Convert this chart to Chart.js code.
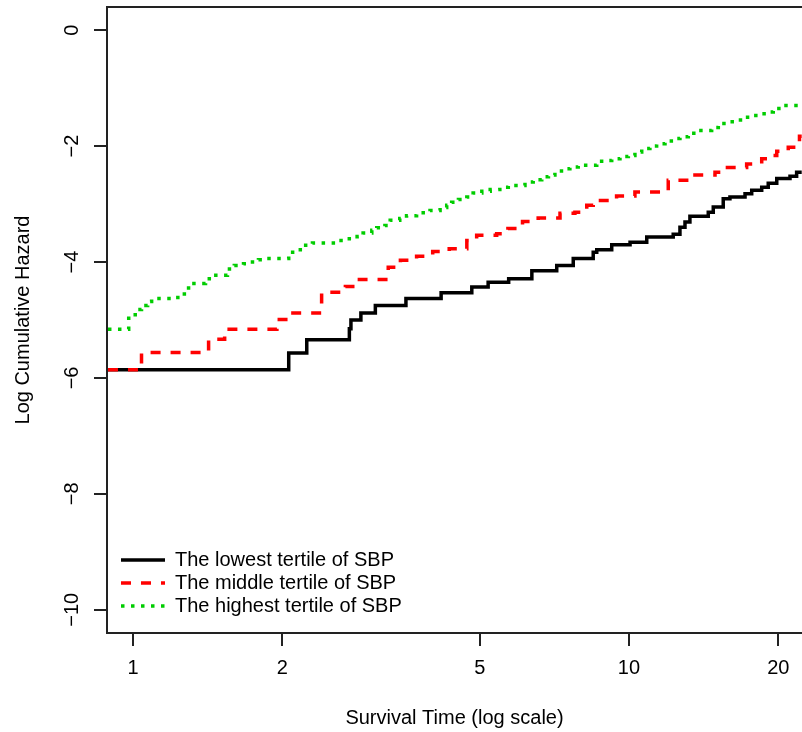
<!DOCTYPE html>
<html>
<head>
<meta charset="utf-8">
<title>Log cumulative hazard by SBP tertile</title>
<script src="https://cdn.jsdelivr.net/npm/chart.js@4.4.1/dist/chart.umd.min.js"></script>
<style>
  html, body { margin: 0; padding: 0; background: #fff; }
  canvas { display: block; }
</style>
</head>
<body>
<canvas id="hazardChart" width="802" height="732"></canvas>
<script>
// survival time at each event and the log cumulative hazard reached there
const lowTime = [0.89, 2.06, 2.24, 2.73, 2.75, 2.88, 3.08, 3.55, 4.18, 4.82, 5.20, 5.72, 6.37, 7.15, 7.72, 8.47, 8.61, 9.23, 10.05, 10.86, 12.28, 12.67, 12.97, 13.27, 14.45, 14.79, 15.49, 15.98, 17.14, 17.68, 18.52, 19.09, 19.86, 21.12, 21.78, 22.3];
const lowLogH = [-5.86, -5.57, -5.34, -5.15, -5.00, -4.88, -4.75, -4.63, -4.53, -4.43, -4.35, -4.29, -4.15, -4.06, -3.94, -3.83, -3.79, -3.70, -3.66, -3.57, -3.52, -3.40, -3.31, -3.21, -3.14, -3.05, -2.91, -2.88, -2.82, -2.76, -2.71, -2.64, -2.56, -2.52, -2.45, -2.45];

const midTime = [0.89, 1.04, 1.42, 1.53, 1.95, 2.07, 2.40, 2.68, 2.86, 3.27, 3.46, 3.73, 4.02, 4.34, 4.71, 4.93, 5.41, 5.70, 5.94, 6.10, 6.56, 7.26, 7.78, 8.22, 8.47, 9.44, 10.28, 12.00, 13.27, 14.91, 15.38, 17.27, 18.52, 19.09, 19.86, 20.95, 22.07, 22.3];
const midLogH = [-5.86, -5.56, -5.33, -5.16, -4.99, -4.88, -4.52, -4.42, -4.30, -4.09, -3.97, -3.90, -3.82, -3.77, -3.63, -3.54, -3.51, -3.42, -3.39, -3.30, -3.24, -3.16, -3.14, -3.02, -2.94, -2.86, -2.79, -2.59, -2.50, -2.45, -2.37, -2.31, -2.22, -2.16, -2.09, -2.02, -1.83, -1.83];

const highTime = [0.89, 0.98, 1.02, 1.04, 1.07, 1.09, 1.22, 1.25, 1.28, 1.31, 1.40, 1.44, 1.55, 1.60, 1.67, 1.72, 1.79, 1.85, 2.06, 2.14, 2.21, 2.30, 2.59, 2.69, 2.83, 2.91, 3.03, 3.10, 3.22, 3.30, 3.45, 3.56, 3.73, 3.97, 4.16, 4.29, 4.39, 4.53, 4.71, 4.85, 5.05, 5.25, 5.49, 5.71, 6.17, 6.41, 6.67, 6.88, 7.09, 7.37, 7.60, 7.90, 8.61, 8.88, 9.23, 9.59, 9.97, 10.28, 10.61, 11.02, 11.37, 11.82, 12.28, 12.67, 13.17, 13.69, 14.68, 15.14, 15.74, 16.36, 17.00, 17.54, 18.23, 18.95, 19.54, 20.32, 22.3];
const highLogH = [-5.16, -4.91, -4.82, -4.75, -4.68, -4.63, -4.61, -4.55, -4.45, -4.37, -4.29, -4.23, -4.12, -4.06, -4.03, -4.00, -3.96, -3.94, -3.83, -3.79, -3.71, -3.67, -3.63, -3.60, -3.56, -3.50, -3.45, -3.41, -3.37, -3.28, -3.25, -3.20, -3.15, -3.11, -3.06, -3.02, -2.97, -2.92, -2.88, -2.81, -2.78, -2.75, -2.71, -2.68, -2.62, -2.58, -2.53, -2.50, -2.43, -2.39, -2.36, -2.33, -2.26, -2.25, -2.22, -2.18, -2.16, -2.10, -2.04, -2.00, -1.96, -1.91, -1.87, -1.84, -1.78, -1.73, -1.68, -1.61, -1.58, -1.55, -1.50, -1.47, -1.44, -1.41, -1.35, -1.30, -1.30];

const seriesNames = ['The lowest tertile of SBP', 'The middle tertile of SBP', 'The highest tertile of SBP'];
const xTickValues = [1, 2, 5, 10, 20];
const yTickValues = [-10, -8, -6, -4, -2, 0];

function toPoints(times, values) {
    return times.map((t, i) => ({ x: t, y: values[i] }));
}

function minusSign(v) {
    return v < 0 ? '\u2212' + Math.abs(v) : String(v);
}

// legend sits inside the plot, bottom left
const legendInPlot = {
    id: 'legendInPlot',
    afterLayout(chart) {
        const legend = chart.legend;
        const area = chart.chartArea;
        legend.update(area.width, area.height, { left: 0, top: 0, right: 0, bottom: 0 });
        legend.left = area.left + 11;
        legend.top = area.bottom - 86;
        legend.right = legend.left + 400;
        legend.bottom = legend.top + 90;
    }
};

Chart.defaults.font.family = '"Liberation Sans", Arial, sans-serif';
Chart.defaults.font.size = 20;
Chart.defaults.color = '#000';

const axisInk = '#222';

new Chart(document.getElementById('hazardChart'), {
    type: 'line',
    data: {
        datasets: [
            {
                label: seriesNames[0],
                data: toPoints(lowTime, lowLogH),
                borderColor: '#000000',
                borderWidth: 3.5,
                stepped: true,
                pointRadius: 0,
                order: 2
            },
            {
                label: seriesNames[1],
                data: toPoints(midTime, midLogH),
                borderColor: '#ff0000',
                borderWidth: 3.5,
                borderDash: [10, 10],
                borderCapStyle: 'butt',
                stepped: true,
                pointRadius: 0,
                order: 1
            },
            {
                label: seriesNames[2],
                data: toPoints(highTime, highLogH),
                borderColor: '#00cd00',
                borderWidth: 3.5,
                borderDash: [3.5, 6.5],
                borderCapStyle: 'butt',
                stepped: true,
                pointRadius: 0,
                order: 0
            }
        ]
    },
    options: {
        responsive: false,
        animation: false,
        devicePixelRatio: 1,
        events: [],
        layout: { padding: { top: 7, right: 0, bottom: 0, left: 0 } },
        scales: {
            x: {
                type: 'logarithmic',
                position: 'bottom',
                min: 0.886,
                max: 22.33,
                afterBuildTicks: s => { s.ticks = xTickValues.map(v => ({ value: v })); },
                afterFit: s => {
                    s.height = 99;
                    s.paddingLeft = 0;
                    s.paddingRight = 0;
                },
                ticks: {
                    autoSkip: false,
                    maxRotation: 0,
                    padding: 10,
                    callback: v => String(v)
                },
                grid: { display: true, drawOnChartArea: false, tickLength: 13, color: axisInk, lineWidth: 2 },
                border: { display: true, color: axisInk, width: 2 },
                title: {
                    display: true,
                    text: 'Survival Time (log scale)',
                    padding: { top: 0, bottom: 2 }
                }
            },
            xTop: {
                type: 'linear',
                axis: 'x',
                position: 'top',
                ticks: { display: false },
                grid: { display: false },
                border: { display: true, color: axisInk, width: 2 },
                afterFit: s => {
                    s.height = 0;
                    s.paddingLeft = 0;
                    s.paddingRight = 0;
                }
            },
            y: {
                type: 'linear',
                min: -10.4,
                max: 0.4,
                afterBuildTicks: s => { s.ticks = yTickValues.map(v => ({ value: v })); },
                afterFit: s => {
                    s.width = 107;
                    s.paddingTop = 0;
                    s.paddingBottom = 0;
                },
                ticks: {
                    minRotation: 90,
                    maxRotation: 90,
                    crossAlign: 'center',
                    padding: 5,
                    callback: v => minusSign(v)
                },
                grid: { display: true, drawOnChartArea: false, tickLength: 13, color: axisInk, lineWidth: 2 },
                border: { display: true, color: axisInk, width: 2 },
                title: {
                    display: true,
                    text: 'Log Cumulative Hazard',
                    padding: { top: 11, bottom: 0 }
                }
            }
        },
        plugins: {
            tooltip: { enabled: false },
            legend: {
                position: 'chartArea',
                align: 'start',
                labels: {
                    usePointStyle: true,
                    pointStyleWidth: 44,
                    padding: 3,
                    font: { size: 20 },
                    color: '#000',
                    generateLabels: chart => chart.data.datasets.map((ds, i) => ({
                        text: ds.label,
                        fillStyle: 'rgba(0,0,0,0)',
                        strokeStyle: ds.borderColor,
                        lineWidth: ds.borderWidth,
                        lineDash: ds.borderDash || [],
                        lineCap: 'butt',
                        pointStyle: 'line',
                        fontColor: '#000',
                        hidden: false,
                        datasetIndex: i
                    }))
                }
            }
        }
    },
    plugins: [legendInPlot]
});
</script>
</body>
</html>
